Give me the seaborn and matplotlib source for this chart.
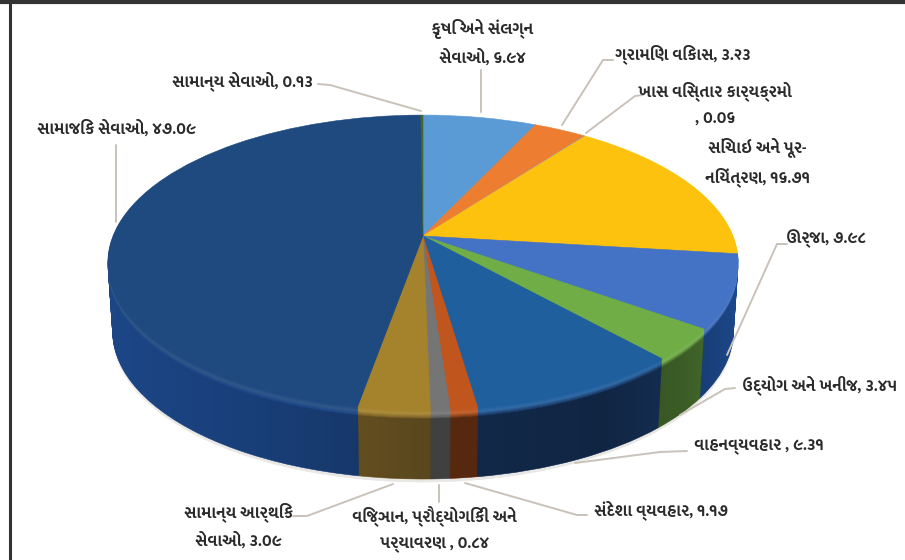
import numpy as np
import matplotlib
matplotlib.use("Agg")
import matplotlib.pyplot as plt
from matplotlib.path import Path
from matplotlib.patches import PathPatch
from matplotlib.transforms import Transform
import seaborn as sns

# values go clockwise from twelve o'clock
labels = [
    "કૃષિ અને સંલગ્ન\nસેવાઓ, ૬.૯૪",
    "ગ્રામિણ વિકાસ, ૩.૨૩",
    "ખાસ વિસ્તાર કાર્યક્રમો\n, ૦.૦૬",
    "સિંચાઇ અને પૂર-\nનિયંત્રણ, ૧૬.૭૧",
    "ઊર્જા, ૭.૯૮",
    "ઉદ્યોગ અને ખનીજ, ૩.૪૫",
    "વાહનવ્યવહાર , ૯.૩૧",
    "સંદેશા વ્યવહાર, ૧.૧૭",
    "વિજ્ઞાન, પ્રૌદ્યોગિકી અને\nપર્યાવરણ , ૦.૮૪",
    "સામાન્ય આર્થિક\nસેવાઓ, ૩.૦૯",
    "સામાજિક સેવાઓ, ૪૭.૦૯",
    "સામાન્ય સેવાઓ, ૦.૧૩",
]
values = [6.94, 3.23, 0.06, 16.71, 7.98, 3.45, 9.31, 1.17, 0.84, 3.09, 47.09, 0.13]

top_colors = ["#5b9bd5", "#ed7d31", "#a5a5a5", "#fcc20e", "#4472c4", "#70ad47",
              "#1f5f9e", "#c0561e", "#757575", "#a5832c", "#1f4a80", "#43682b"]
wall_colors = ["#3a6a98", "#a35520", "#6a6a6a", "#a58008", "#1c4788", "#4a7330",
               "#1a3a68", "#7a3a16", "#5a5a5a", "#7c6228", "#1c4686", "#2c4a1c"]

# label centres in picture pixels
label_x = [482, 683, 715, 757, 826, 819, 759, 661, 434, 238, 116, 242]
label_y = [29, 54, 91, 148, 239, 385, 447, 510, 516, 512, 129, 81]
line_step = 29

leaders = [
    ([481, 481], [70, 112]),
    ([613, 603, 562], [60, 60, 125]),
    ([643, 635, 586], [95, 96, 133]),
    ([787, 777, 727], [244, 244, 355]),
    ([735, 725, 680], [388, 389, 415]),
    ([687, 660, 575], [451, 452, 463]),
    ([587, 577, 465], [515, 515, 483]),
    ([439, 439], [485, 502]),
    ([293, 307, 393], [516, 516, 484]),
    ([116, 116], [145, 222]),
    ([318, 330, 421], [84, 85, 111]),
]

# darkness of the side wall from left to right
shade_x = [107, 250, 430, 600, 680, 737]
shade_alpha = [0.0, 0.10, 0.28, 0.36, 0.20, 0.0]

DEPTH = 69
BEVEL = 8


class TiltTransform(Transform):
    """Unit pie to picture pixels, with perspective, dropped by shift pixels"""
    input_dims = 2
    output_dims = 2
    is_separable = False
    has_inverse = False

    def __init__(self, shift=0):
        super().__init__()
        self.shift = shift

    def transform_non_affine(self, values):
        x = values[:, 0]
        y = values[:, 1]
        d = 1 + 0.18 * y
        # lower rim is a bit narrower than the top one
        sx = 310 * (1 - 0.00022 * self.shift)
        return np.column_stack([423 + sx * x / d, 236 - 142.7 * y / d + self.shift])


def draw_layer(ax, colors, shift, zorder=1):
    wedges, _ = ax.pie(values, colors=colors, startangle=90, counterclock=False)
    for w in wedges:
        w.set_edgecolor(w.get_facecolor())
        w.set_linewidth(0.4)
        w.set_transform(TiltTransform(shift) + ax.transData)
        w.set_clip_on(False)
        w.set_zorder(zorder)


def wall_outline():
    # front half of the rim at the top and at the foot of the wall
    a = np.linspace(np.pi, 2 * np.pi, 200)
    unit = np.column_stack([np.cos(a), np.sin(a)])
    upper = TiltTransform(0).transform_non_affine(unit)
    lower = TiltTransform(DEPTH).transform_non_affine(unit)[::-1]
    return Path(np.vstack([upper, lower, upper[:1]]), closed=True)


def mix(c1, c2, t):
    return tuple(t * a + (1 - t) * b for a, b in zip(c1, c2))


sns.set_theme(style="white")
plt.rcParams["font.family"] = ["Mukta Vaani", "Noto Sans Gujarati", "DejaVu Sans"]

fig = plt.figure(figsize=(9.05, 5.6), dpi=100, facecolor="white")
ax = fig.add_axes([0, 0, 1, 1])

top_pal = sns.color_palette(top_colors)
wall_pal = sns.color_palette(wall_colors)

# soft shadow, then the side wall as a stack of dropped pies
draw_layer(ax, ["#e9e7e4"] * len(values), DEPTH + 3)
for shift in range(DEPTH, BEVEL, -1):
    draw_layer(ax, wall_pal, shift)

# bevel: wall colour, light streak, then top colour
for shift in range(BEVEL, 0, -1):
    t = shift / BEVEL
    if t > 0.5:
        blend = [mix(w, mix((1, 1, 1), c, 0.08), (t - 0.5) * 2) for w, c in zip(wall_pal, top_pal)]
    else:
        blend = [mix(mix((1, 1, 1), c, 0.08), c, t * 2) for c in top_pal]
    draw_layer(ax, blend, shift, zorder=3)
draw_layer(ax, top_pal, 0, zorder=3)

# left to right shading over the wall only
xs = np.arange(107, 738)
shade = np.zeros((1, len(xs), 4))
shade[0, :, 3] = np.interp(xs, shade_x, shade_alpha)
img = ax.imshow(shade, extent=(107, 738, 560, 200), aspect="auto", zorder=2)
clip = PathPatch(wall_outline(), transform=ax.transData, fc="none", ec="none")
ax.add_patch(clip)
img.set_clip_path(clip)

for xs_l, ys_l in leaders:
    ax.plot(xs_l, ys_l, color="#c9c2ba", lw=1.4, solid_capstyle="round", zorder=5)

for label, x, y in zip(labels, label_x, label_y):
    for i, line in enumerate(label.split("\n")):
        ax.text(x, y + i * line_step, line, ha="center", va="center", fontsize=12,
                fontweight="bold", color="#2a2a2a", zorder=6)

# dark frame left and top of the page
ax.plot([10, 10], [2, 560], color="#333333", lw=2.2, zorder=7, solid_capstyle="butt")
ax.plot([0, 905], [1.5, 1.5], color="#333333", lw=3, zorder=7, solid_capstyle="butt")

ax.set_aspect("auto")
ax.set_xlim(0, 905)
ax.set_ylim(560, 0)
ax.axis("off")

fig.savefig("out.png", dpi=100, facecolor="white")
